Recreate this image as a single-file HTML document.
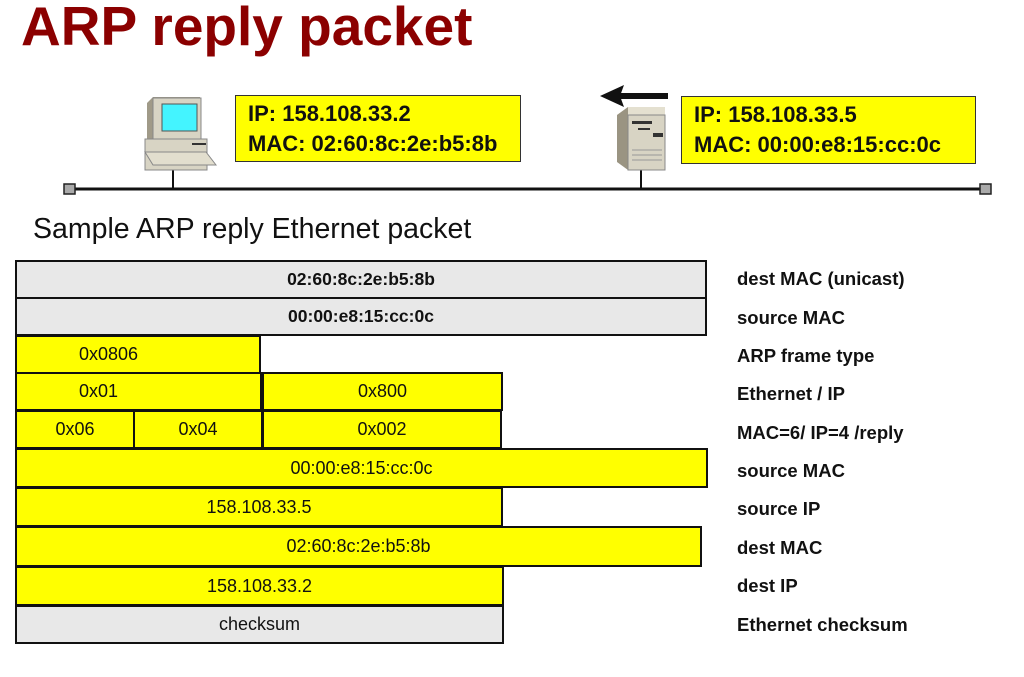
<!DOCTYPE html>
<html><head><style>
body{margin:0;width:1024px;height:677px;background:#fff;position:relative;overflow:hidden;font-family:"Liberation Sans",sans-serif}
.a{position:absolute;box-sizing:border-box}
.f{position:absolute;box-sizing:border-box;border:2.5px solid #111;background:#ff0;display:flex;align-items:center;justify-content:center;font-size:18px;color:#111}
.g{background:#e8e8e8}
.b{font-weight:bold;font-size:17.5px}
.l{position:absolute;left:737px;font-size:18.5px;font-weight:bold;color:#111;white-space:nowrap}
.ip{position:absolute;box-sizing:border-box;background:#ff0;border:1.5px solid #333;font-weight:bold;font-size:22px;line-height:30px;padding:3px 0 0 12px;color:#111;white-space:nowrap}
</style></head><body>
<div class="a" style="left:21px;top:-6px;font-size:55px;font-weight:bold;color:#8b0000;white-space:nowrap">ARP reply packet</div>
<div class="ip" style="left:235px;top:95px;width:286px;height:67px">IP: 158.108.33.2<br>MAC: 02:60:8c:2e:b5:8b</div>
<div class="ip" style="left:681px;top:96px;width:295px;height:68px">IP: 158.108.33.5<br>MAC: 00:00:e8:15:cc:0c</div>
<svg class="a" style="left:0;top:0" width="1024" height="220">
<line x1="70" y1="189" x2="985" y2="189" stroke="#111" stroke-width="3"/>
<rect x="64" y="184" width="11" height="10" fill="#aaa" stroke="#222" stroke-width="1.5"/>
<rect x="980" y="184" width="11" height="10" fill="#aaa" stroke="#222" stroke-width="1.5"/>
<line x1="173" y1="165" x2="173" y2="189" stroke="#111" stroke-width="2"/>
<line x1="641" y1="170" x2="641" y2="189" stroke="#111" stroke-width="2"/>
<polygon points="147,103 153,97 200,97 200,150 147,150" fill="#a09a88"/>
<rect x="153" y="98" width="48" height="52" fill="#d8d4c4" stroke="#888"/>
<rect x="162" y="104" width="35" height="27" fill="#44f4ff" stroke="#555"/>
<rect x="145" y="139" width="62" height="31" fill="#d8d4c4" stroke="#888"/>
<rect x="192" y="143" width="14" height="2" fill="#333"/>
<polygon points="145,152 206,152 216,165 153,165" fill="#e2dece" stroke="#888"/>
<polygon points="617,115 628,107 665,107 665,115" fill="#e4e0d0"/>
<polygon points="617,115 628,107 628,170 617,162" fill="#9a9482"/>
<rect x="628" y="115" width="37" height="55" fill="#d8d4c4" stroke="#888"/>
<rect x="632" y="121" width="20" height="3" fill="#333"/>
<rect x="653" y="133" width="10" height="4" fill="#333"/>
<rect x="638" y="128" width="12" height="2" fill="#333"/>
<line x1="632" y1="150" x2="662" y2="150" stroke="#999"/>
<line x1="632" y1="155" x2="662" y2="155" stroke="#999"/>
<line x1="632" y1="160" x2="662" y2="160" stroke="#999"/>
<rect x="618" y="93" width="50" height="6" fill="#111"/>
<polygon points="600,96 624,85 620,96 624,107" fill="#111"/>
</svg>
<div class="a" style="left:33px;top:213px;font-size:28.5px;color:#111;white-space:nowrap">Sample ARP reply Ethernet packet</div>

<div class="f g b" style="left:15px;top:260px;width:692px;height:39px">02:60:8c:2e:b5:8b</div>
<div class="f g b" style="left:15px;top:297px;width:692px;height:39px">00:00:e8:15:cc:0c</div>
<div class="f" style="left:15px;top:335px;width:246px;height:39px;justify-content:flex-start;padding-left:62px">0x0806</div>
<div class="f" style="left:15px;top:372px;width:247px;height:39px;justify-content:flex-start;padding-left:62px">0x01</div>
<div class="f" style="left:262px;top:372px;width:241px;height:39px">0x800</div>
<div class="f" style="left:15px;top:410px;width:120px;height:39px">0x06</div>
<div class="f" style="left:133px;top:410px;width:130px;height:39px">0x04</div>
<div class="f" style="left:262px;top:410px;width:240px;height:39px">0x002</div>
<div class="f" style="left:15px;top:448px;width:693px;height:40px">00:00:e8:15:cc:0c</div>
<div class="f" style="left:15px;top:487px;width:488px;height:40px">158.108.33.5</div>
<div class="f" style="left:15px;top:526px;width:687px;height:41px">02:60:8c:2e:b5:8b</div>
<div class="f" style="left:15px;top:566px;width:489px;height:40px">158.108.33.2</div>
<div class="f g" style="left:15px;top:605px;width:489px;height:39px">checksum</div>

<div class="l" style="top:268px">dest MAC (unicast)</div>
<div class="l" style="top:307px">source MAC</div>
<div class="l" style="top:345px">ARP frame type</div>
<div class="l" style="top:383px">Ethernet / IP</div>
<div class="l" style="top:422px">MAC=6/ IP=4 /reply</div>
<div class="l" style="top:460px">source MAC</div>
<div class="l" style="top:498px">source IP</div>
<div class="l" style="top:537px">dest MAC</div>
<div class="l" style="top:575px">dest IP</div>
<div class="l" style="top:614px">Ethernet checksum</div>
</body></html>
